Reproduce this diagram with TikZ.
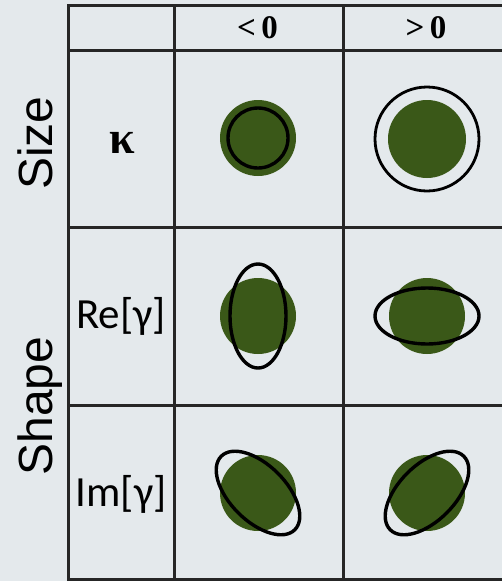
\documentclass[tikz,border=0pt]{standalone}
\usepackage{fontspec}
\newfontfamily\arialf{Liberation Sans}
\newfontfamily\calibf{Carlito}
\newfontfamily\tnrf{Liberation Serif}
\definecolor{bgc}{RGB}{228,233,236}
\definecolor{blob}{RGB}{58,88,24}
\tikzset{
  grid/.style={line width=3pt, draw=black!85},
  axislab/.style={font=\arialf\fontsize{48}{50}\selectfont, rotate=90, anchor=base, inner sep=0pt},
  rowlab/.style={font=\calibf\fontsize{43}{46}\selectfont, anchor=base, inner sep=0pt},
  kaplab/.style={font=\tnrf\bfseries\fontsize{46}{48}\selectfont, anchor=base, inner sep=0pt},
  headlab/.style={font=\tnrf\bfseries\fontsize{33}{35}\selectfont, anchor=base, inner sep=0pt},
  ring/.style={draw=black, line width=3.4pt},
}
\begin{document}
\begin{tikzpicture}[x=1pt,y=-1pt]
\fill[bgc] (0,0) rectangle (502,581);
\useasboundingbox (0,0) rectangle (502,581);
% grid
\draw[grid] (502,5) -- (68,5) -- (68,579) -- (502,579);
\draw[grid] (68,50) -- (502,50);
\draw[grid] (68,227) -- (502,227);
\draw[grid] (68,405) -- (502,405);
\draw[grid] (174,5) -- (174,579);
\draw[grid] (343,5) -- (343,579);
% header
\node[headlab] (h1) at (257.5,38) {<\,0};
\node[headlab] (h2) at (426,38) {>\,0};
% axis labels
\node[axislab] (size) at (52,143) {Size};
\node[axislab] (shape) at (52,406) {Shape};
% row labels
\node[kaplab] (kap) at (122,153) {κ};
\node[rowlab] (re) at (121,328) {Re[γ]};
\node[rowlab] (im) at (121,506) {Im[γ]};
% row 1
\fill[blob] (258,138) circle (38);
\draw[ring] (258,138) circle (30);
\fill[blob] (427,139) circle (39);
\draw[ring, line width=2.8pt] (427,139) circle (52);
% row 2
\fill[blob] (258,316) circle (38);
\draw[ring] (258,316) ellipse [x radius=28, y radius=52];
\fill[blob] (427,316) circle (38);
\draw[ring] (427,316) ellipse [x radius=52, y radius=28];
% row 3
\fill[blob] (258,493) circle (38);
\draw[ring, rotate around={-45:(258,493)}] (258,493) ellipse [x radius=52, y radius=28];
\fill[blob] (427,493) circle (38);
\draw[ring, rotate around={45:(427,493)}] (427,493) ellipse [x radius=52, y radius=28];
\end{tikzpicture}
\end{document}
